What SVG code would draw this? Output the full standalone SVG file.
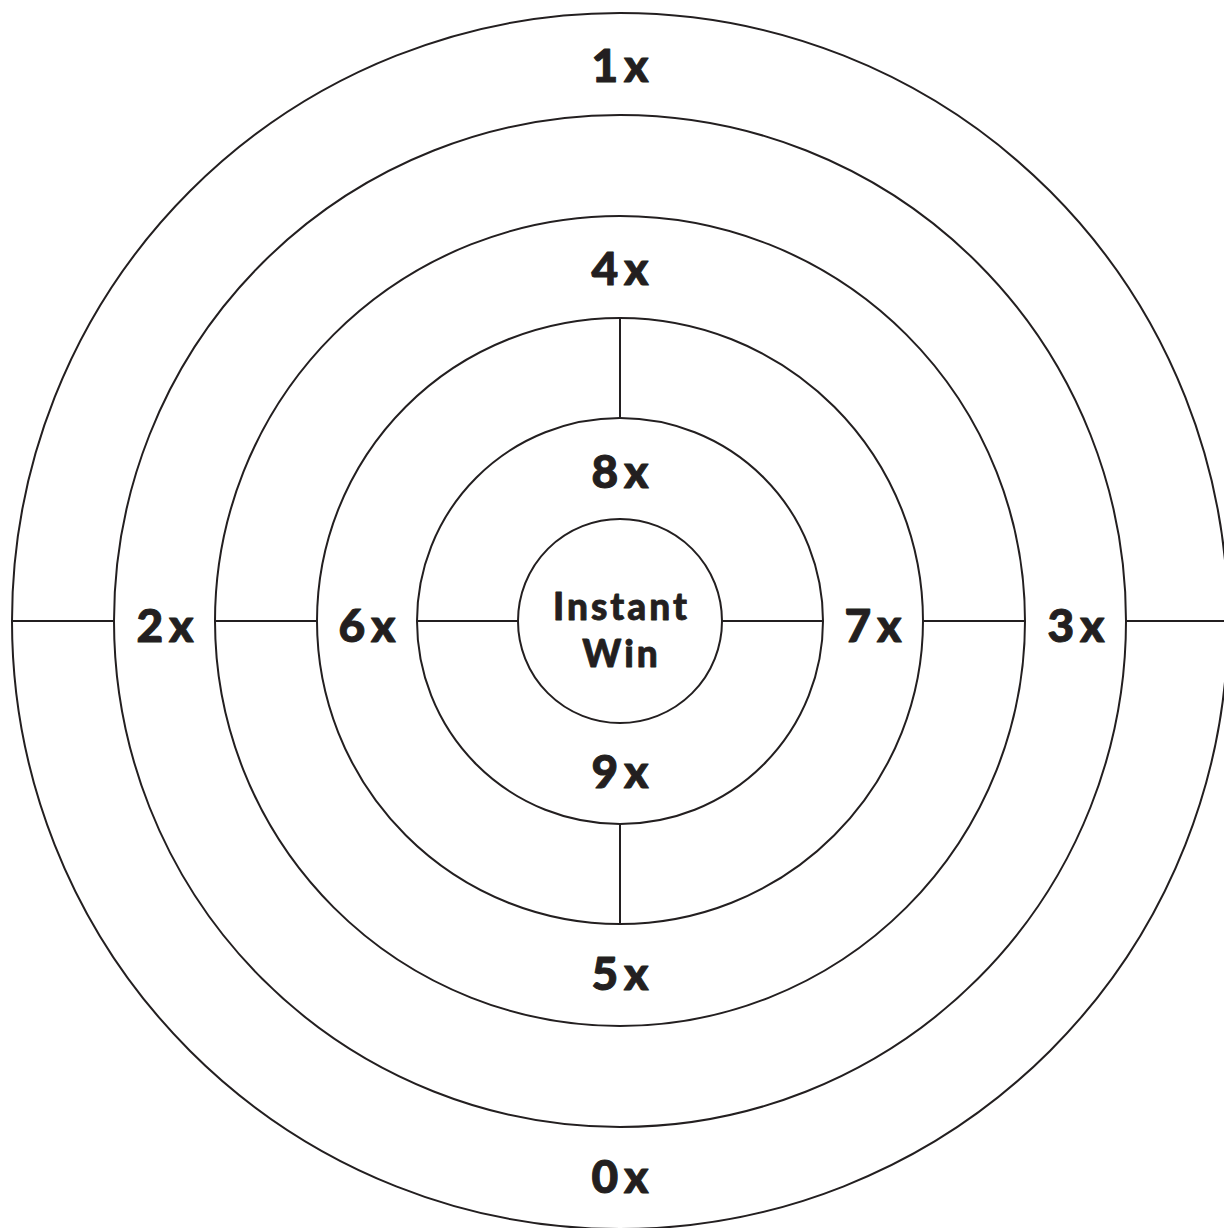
<svg xmlns="http://www.w3.org/2000/svg" width="1224" height="1228" viewBox="0 0 1224 1228">
<style>
.ring{fill:none;stroke:#231f20;stroke-width:2}
.conn line{stroke:#231f20;stroke-width:2}
.lbl{font-family:Lato,"Open Sans","Liberation Sans",sans-serif;font-weight:900;font-size:46px;fill:#231f20;stroke:#231f20;stroke-width:1;stroke-linejoin:round;text-anchor:middle;letter-spacing:6px}
.ctr{font-family:Lato,"Open Sans","Liberation Sans",sans-serif;font-weight:900;font-size:37px;fill:#231f20;stroke:#231f20;stroke-width:0.8;stroke-linejoin:round;text-anchor:middle;letter-spacing:3px}
</style>
<rect width="1224" height="1228" fill="#ffffff"/>
<g id="rings">
<circle id="ring-0" class="ring" cx="620" cy="621" r="608"/>
<circle id="ring-1" class="ring" cx="620" cy="621" r="506"/>
<circle id="ring-2" class="ring" cx="620" cy="621" r="405"/>
<circle id="ring-3" class="ring" cx="620" cy="621" r="303"/>
<circle id="ring-4" class="ring" cx="620" cy="621" r="203"/>
<circle id="ring-5" class="ring" cx="620" cy="621" r="102"/>
</g>
<g id="connectors" class="conn">
<line x1="12" y1="621" x2="114" y2="621"/>
<line x1="215" y1="621" x2="317" y2="621"/>
<line x1="417" y1="621" x2="518" y2="621"/>
<line x1="722" y1="621" x2="823" y2="621"/>
<line x1="923" y1="621" x2="1025" y2="621"/>
<line x1="1126" y1="621" x2="1224" y2="621"/>
<line x1="620" y1="318" x2="620" y2="418"/>
<line x1="620" y1="824" x2="620" y2="924"/>
</g>
<g id="labels">
<g id="n-1x"><text class="lbl" x="623" y="82">1x</text></g>
<g id="n-4x"><text class="lbl" x="623" y="285">4x</text></g>
<g id="n-8x"><text class="lbl" x="623" y="488">8x</text></g>
<g id="n-center"><text class="ctr" x="621.5" y="620">Instant</text><text class="ctr" x="621.5" y="667">Win</text></g>
<g id="n-9x"><text class="lbl" x="623" y="788">9x</text></g>
<g id="n-5x"><text class="lbl" x="623" y="990">5x</text></g>
<g id="n-0x"><text class="lbl" x="623" y="1193">0x</text></g>
<g id="n-2x"><text class="lbl" x="168" y="642">2x</text></g>
<g id="n-6x"><text class="lbl" x="370" y="642">6x</text></g>
<g id="n-7x"><text class="lbl" x="876" y="642">7x</text></g>
<g id="n-3x"><text class="lbl" x="1079" y="642">3x</text></g>
</g>
</svg>
